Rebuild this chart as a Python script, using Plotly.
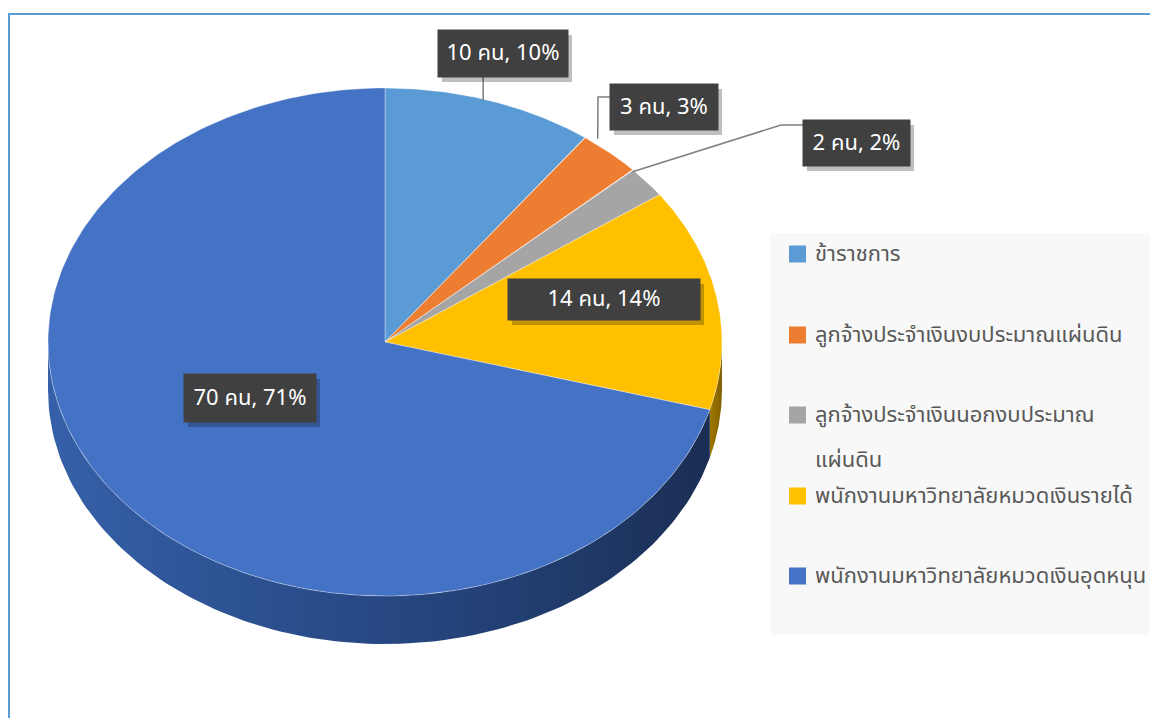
import numpy as np
import plotly.graph_objects as go

# ---------------- data ----------------
categories = [
    "ข้าราชการ",
    "ลูกจ้างประจำเงินงบประมาณแผ่นดิน",
    "ลูกจ้างประจำเงินนอกงบประมาณ<br>แผ่นดิน",
    "พนักงานมหาวิทยาลัยหมวดเงินรายได้",
    "พนักงานมหาวิทยาลัยหมวดเงินอุดหนุน",
]
counts = [10, 3, 2, 14, 70]
unit = "คน"

# ---------------- style ----------------
top_colors = ["#5B9BD5", "#ED7D31", "#A5A5A5", "#FFC000", "#4472C4"]
side_scales = [
    [[0, "#41719C"], [1, "#2E5A80"]],
    [[0, "#AE5A21"], [1, "#8C481A"]],
    [[0, "#7C7C7C"], [1, "#636363"]],
    [[0, "#A07800"], [1, "#806000"]],
    [[0, "#3660A8"], [0.35, "#2B4F8E"], [0.7, "#223F73"], [1, "#1B2E54"]],
]
FONT = "Tahoma, 'Leelawadee UI', 'Noto Sans Thai', 'Noto Sans', sans-serif"
W, H = 1150, 718
CX, CY, RX, RY, DEPTH = 385, 342, 337, 254, 48

# label box centres / sizes (layout)
label_pos = [(503, 53.5), (664, 107), (856.5, 143), (604, 299.5), (250, 398)]
label_size = [(130, 47), (108, 46), (107, 46), (192, 41), (132, 48)]

# legend layout (pixels)
LEG_BOX = (770, 233, 1160, 635)
LEG_SQ_X = (789, 806)
LEG_TEXT_X = 813
LEG_ROW_Y = [254, 335, 415, 496, 576]
LEG_LINE_GAP = 45

total = sum(counts)
bounds = np.concatenate([[0], np.cumsum(counts)]) / total * 360.0


def ell(theta_deg, dy=0.0):
    t = np.radians(theta_deg)
    return CX + RX * np.sin(t), CY - RY * np.cos(t) + dy


fig = go.Figure()

# side walls (front half only)
for i in range(len(counts)):
    a, b = max(bounds[i], 90), min(bounds[i + 1], 270)
    if a < b:
        th = np.linspace(a, b, 120)
        x1, y1 = ell(th)
        x2, y2 = ell(th[::-1], DEPTH)
        fig.add_trace(go.Scatter(
            x=np.concatenate([x1, x2, x1[:1]]), y=np.concatenate([y1, y2, y1[:1]]),
            mode="lines", fill="toself", line=dict(width=0),
            fillgradient=dict(type="horizontal", colorscale=side_scales[i]),
            hoverinfo="skip", showlegend=False))

# top faces
for i in range(len(counts)):
    th = np.linspace(bounds[i], bounds[i + 1], 200)
    xs, ys = ell(th)
    fig.add_trace(go.Scatter(
        x=np.concatenate([[CX], xs, [CX]]), y=np.concatenate([[CY], ys, [CY]]),
        mode="lines", fill="toself", fillcolor=top_colors[i],
        line=dict(width=0.6, color="rgba(255,255,255,0.6)"),
        name=categories[i].replace("<br>", ""), hoverinfo="name", showlegend=False))

# leader lines for small slices (ends on the slice mid-angle)
mids = [(bounds[i] + bounds[i + 1]) / 2 for i in range(len(counts))]
for i in [0, 1, 2]:
    ex, ey = ell(mids[i])
    (lx, ly), (bw, bh) = label_pos[i], label_size[i]
    if i == 0:
        xs, ys = [ex - 7, ex - 7], [ly + bh / 2, ey]
    elif i == 1:
        xs, ys = [lx - bw / 2, lx - bw / 2 - 12, ex - 12], [ly - 10, ly - 10, ey - 14]
    else:
        xs, ys = [lx - bw / 2, lx - bw / 2 - 22, ex - 14], [ly - 18, ly - 18, ey - 10]
    fig.add_trace(go.Scatter(x=xs, y=ys, mode="lines",
                             line=dict(color="#7F7F7F", width=1.5),
                             hoverinfo="skip", showlegend=False))

annotations = []
shapes = [
    # legend panel
    dict(type="rect", xref="x", yref="y", x0=LEG_BOX[0], x1=LEG_BOX[2], y0=LEG_BOX[1], y1=LEG_BOX[3],
         fillcolor="#F8F8F8", line=dict(width=0), layer="below"),
]

# data labels (box shadows are shapes, boxes are annotations)
for i, v in enumerate(counts):
    pct = round(v / total * 100)
    text = f"{v} {unit}, {pct}%"
    (lx, ly), (bw, bh) = label_pos[i], label_size[i]
    shapes.append(dict(type="rect", xref="x", yref="y",
                       x0=lx - bw / 2 + 4, x1=lx + bw / 2 + 4, y0=ly - bh / 2 + 5, y1=ly + bh / 2 + 5,
                       fillcolor="rgba(0,0,0,0.25)", line=dict(width=0), layer="above"))
    annotations.append(dict(x=lx, y=ly, xref="x", yref="y", text=text,
                            showarrow=False, width=bw, height=bh, borderpad=0,
                            bgcolor="#404040", font=dict(color="white", size=22, family=FONT)))

# legend (squares + text rows)
for i, name in enumerate(categories):
    yc = LEG_ROW_Y[i]
    half = (LEG_SQ_X[1] - LEG_SQ_X[0]) / 2
    shapes.append(dict(type="rect", xref="x", yref="y", x0=LEG_SQ_X[0], x1=LEG_SQ_X[1],
                       y0=yc - half, y1=yc + half, fillcolor=top_colors[i], line=dict(width=0)))
    for k, line in enumerate(name.split("<br>")):
        annotations.append(dict(x=LEG_TEXT_X, y=yc + k * LEG_LINE_GAP, xref="x", yref="y",
                                xanchor="left", yanchor="middle", text=line, showarrow=False,
                                font=dict(color="#595959", size=22, family=FONT)))

shapes += [
    # chart frame
    dict(type="line", xref="paper", yref="paper", x0=8 / W, x1=1.01, y0=1 - 14 / H, y1=1 - 14 / H,
         line=dict(color="#5B9BD5", width=2)),
    dict(type="line", xref="paper", yref="paper", x0=9 / W, x1=9 / W, y0=-0.01, y1=1 - 14 / H,
         line=dict(color="#5B9BD5", width=2)),
]

fig.update_layout(
    width=W, height=H,
    margin=dict(l=0, r=0, t=0, b=0),
    paper_bgcolor="white", plot_bgcolor="white",
    xaxis=dict(range=[0, W], visible=False, fixedrange=True),
    yaxis=dict(range=[H, 0], visible=False, fixedrange=True),
    annotations=annotations, shapes=shapes,
    showlegend=False,
)

fig.write_html("out.html", config={"displayModeBar": False},
               post_script="document.body.style.margin='0';")
